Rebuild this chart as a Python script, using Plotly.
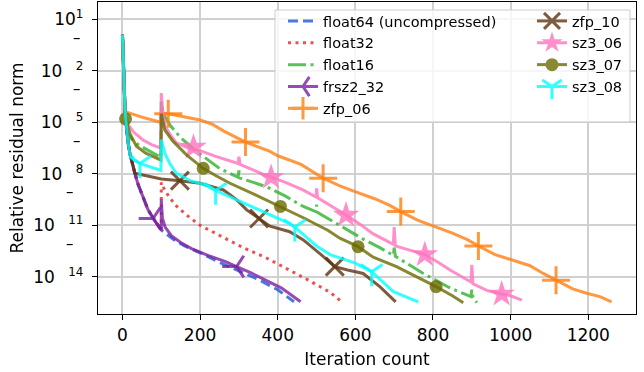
import plotly.graph_objects as go

# ---------------- data (iteration count, log10 of relative residual norm) ----------------
common_it = [0, 1, 2, 3, 4, 5, 6, 8, 10, 14, 19, 25, 32, 40, 49, 57, 66, 77, 88, 100]
common_lg = [0.1, -0.8, -1.6, -2.3, -2.9, -3.4, -3.9, -4.7, -5.3, -6.1, -6.8, -7.4, -7.97,
             -8.6, -9.13, -9.6, -10.1, -10.5, -10.9, -11.27]

float64_it = common_it + [130, 160, 200, 250, 300, 350, 400, 431, 442]
float64_lg = common_lg + [-11.8, -12.2, -12.6, -13.15, -13.65, -14.15, -14.75, -15.25, -15.45]

float32_it = common_it + [100, 110, 135, 165, 200, 250, 311, 371, 431, 480, 535, 562]
float32_lg = common_lg + [-8.5, -9.0, -9.8, -10.4, -11.0, -11.6, -12.3, -12.9, -13.6, -14.2, -14.9, -15.4]

float16_it = common_it[:9] + [14, 20, 40, 70, 99, 100, 105, 122, 150, 191, 251, 298, 300, 303, 371, 420,
                              466, 498, 500, 503, 569, 620, 663, 698, 700, 703, 775, 840, 898, 900, 903, 913]
float16_lg = common_lg[:9] + [-5.7, -5.9, -6.3, -6.7, -7.05, -3.8, -4.5, -5.15, -5.9, -6.7, -7.7, -8.2, -7.8,
                              -8.25, -8.75, -9.3, -9.9, -10.2, -9.8, -10.25, -11.1, -11.8, -12.3, -12.75,
                              -12.3, -12.8, -13.8, -14.6, -15.15, -14.75, -15.2, -15.5]

frsz2_it = common_it + [100, 103, 110, 126, 150, 178, 220, 264, 294, 330, 370, 410, 459]
frsz2_lg = common_lg + [-9.5, -10.6, -11.1, -11.6, -12.0, -12.35, -12.75, -13.1, -13.4, -13.75, -14.2,
                        -14.65, -15.45]
frsz2_mk_it = [79, 294]
frsz2_mk_lg = [-10.6, -13.4]

zfp06_it = common_it[:7] + [7, 50, 98, 100, 118, 160, 200, 230, 260, 317, 380, 400, 460, 517, 560, 599, 650,
                            690, 717, 760, 797, 850, 890, 917, 960, 998, 1050, 1084, 1117, 1160, 1196, 1230, 1260]
zfp06_lg = common_lg[:7] + [-4.38, -4.7, -5.0, -4.45, -4.5, -4.7, -4.87, -5.1, -5.5, -6.15, -6.7, -6.95, -7.45,
                            -8.26, -8.7, -9.04, -9.45, -9.85, -10.2, -10.7, -11.0, -11.45, -11.85, -12.2,
                            -12.7, -12.98, -13.35, -13.8, -14.2, -14.7, -14.95, -15.15, -15.45]
zfp06_mk_it = [118, 317, 517, 717, 917, 1117]
zfp06_mk_lg = [-4.5, -6.15, -8.26, -10.2, -12.2, -14.2]

zfp10_it = common_it[:13] + [50, 88, 100, 148, 200, 260, 294, 320, 352, 380, 431, 466, 517, 547, 580, 620,
                             663, 704]
zfp10_lg = common_lg[:13] + [-8.05, -8.26, -8.3, -8.4, -8.55, -8.94, -9.5, -10.1, -10.6, -11.05, -11.37,
                             -11.85, -12.8, -13.4, -13.6, -13.8, -14.57, -15.45]
zfp10_mk_it = [148, 352, 547]
zfp10_mk_lg = [-8.4, -10.6, -13.4]

sz306_it = common_it[:8] + [15, 30, 53, 75, 99, 100, 104, 109, 125, 139, 174, 200, 242, 298, 300, 303, 340,
                            371, 420, 466, 499, 500, 503, 540, 576, 610, 646, 698, 700, 703, 740, 779, 810,
                            844, 898, 900, 903, 940, 977, 1000, 1029]
sz306_lg = common_lg[:8] + [-5.15, -5.6, -6.03, -6.3, -6.5, -3.3, -4.4, -5.2, -5.8, -6.2, -6.55, -6.65, -7.0,
                            -7.4, -7.0, -7.45, -7.8, -8.1, -8.5, -8.95, -9.35, -8.85, -9.4, -9.9, -10.4,
                            -10.9, -11.5, -12.1, -11.1, -12.2, -12.45, -12.7, -13.1, -13.6, -14.3, -13.3,
                            -14.4, -14.8, -15.0, -15.1, -15.35]
sz306_mk_it = [183, 383, 576, 779, 977]
sz306_mk_lg = [-6.45, -8.2, -10.4, -12.7, -15.0]

sz307_it = common_it[:7] + [8, 20, 36, 60, 99, 100, 109, 130, 165, 208, 240, 277, 340, 407, 470, 530, 560,
                            607, 646, 706, 760, 808, 850, 878]
sz307_lg = common_lg[:7] + [-4.8, -5.7, -6.4, -6.8, -7.2, -4.5, -5.45, -6.1, -6.9, -7.68, -8.1, -8.55, -9.2,
                            -9.9, -10.6, -11.3, -11.75, -12.24, -12.85, -13.4, -14.0, -14.57, -15.1, -15.5]
sz307_mk_it = [8, 208, 407, 607, 808]
sz307_mk_lg = [-4.8, -7.68, -9.9, -12.24, -14.57]

sz308_it = common_it[:11] + [30, 45, 70, 99, 100, 105, 109, 122, 139, 156, 174, 208, 240, 303, 371, 431, 444,
                             500, 535, 560, 600, 642, 670, 698, 762]
sz308_lg = common_lg[:11] + [-7.2, -7.4, -7.6, -7.8, -6.0, -6.4, -6.8, -7.4, -7.97, -8.17, -8.4, -8.6, -8.97,
                             -9.6, -10.3, -10.9, -11.1, -12.2, -12.7, -12.9, -13.2, -13.7, -14.3, -14.86, -15.45]
sz308_mk_it = [45, 240, 444, 642]
sz308_mk_lg = [-7.4, -8.97, -11.1, -13.7]

x_ticks = [0, 200, 400, 600, 800, 1000, 1200]
y_tick_exp = [1, -2, -5, -8, -11, -14]
y_tick_text = ["10<sup>1</sup>", "10<sup>\u2007\u20022</sup>", "10<sup>\u2007\u20025</sup>",
               "10<sup>\u2007\u20028</sup>", "10<sup>\u2007\u200211</sup>", "10<sup>\u2007\u200214</sup>"]


def to_val(lst):
    return [10 ** v for v in lst]


series = [
    dict(name="float64 (uncompressed)", it=float64_it, lg=float64_lg, color="#1d56d8", dash="10px,5px",
         legend="legend"),
    dict(name="float32", it=float32_it, lg=float32_lg, color="#ec2424", dash="3px,4.5px", legend="legend"),
    dict(name="float16", it=float16_it, lg=float16_lg, color="#2fb42f", dash="18px,4.5px,3px,4.5px",
         legend="legend"),
    dict(name="frsz2_32", it=frsz2_it, lg=frsz2_lg, color="#7b1fa2", dash="solid", legend="legend",
         mk_it=frsz2_mk_it, mk_lg=frsz2_mk_lg, symbol="y-left", size=18, thin=True),
    dict(name="zfp_06", it=zfp06_it, lg=zfp06_lg, color="#ff7f10", dash="solid", legend="legend",
         mk_it=zfp06_mk_it, mk_lg=zfp06_mk_lg, symbol="cross-thin", size=20, thin=True),
    dict(name="zfp_10", it=zfp10_it, lg=zfp10_lg, color="#5c3310", dash="solid", legend="legend2",
         mk_it=zfp10_mk_it, mk_lg=zfp10_mk_lg, symbol="x-thin", size=18, thin=True),
    dict(name="sz3_06", it=sz306_it, lg=sz306_lg, color="#ff73be", dash="solid", legend="legend2",
         mk_it=sz306_mk_it, mk_lg=sz306_mk_lg, symbol="star", size=20, thin=False),
    dict(name="sz3_07", it=sz307_it, lg=sz307_lg, color="#6b6b00", dash="solid", legend="legend2",
         mk_it=sz307_mk_it, mk_lg=sz307_mk_lg, symbol="circle", size=13, thin=False),
    dict(name="sz3_08", it=sz308_it, lg=sz308_lg, color="#00ffff", dash="solid", legend="legend2",
         mk_it=sz308_mk_it, mk_lg=sz308_mk_lg, symbol="y-down", size=18, thin=True),
]

OP = 0.8
LW = 3
fig = go.Figure()
for s in series:
    fig.add_trace(go.Scatter(x=s["it"], y=to_val(s["lg"]), mode="lines",
                             line=dict(color=s["color"], width=LW, dash=s["dash"]),
                             opacity=OP, showlegend=False, hoverinfo="skip"))
    mk = None
    if "mk_it" in s:
        if s["thin"]:
            mk = dict(symbol=s["symbol"], size=s["size"], color=s["color"],
                      line=dict(color=s["color"], width=3))
        else:
            mk = dict(symbol=s["symbol"], size=s["size"], color=s["color"], line=dict(width=0))
        fig.add_trace(go.Scatter(x=s["mk_it"], y=to_val(s["mk_lg"]), mode="markers", marker=mk,
                                 opacity=OP, showlegend=False, hoverinfo="skip"))
    # legend entry
    fig.add_trace(go.Scatter(x=[None], y=[None], mode="lines+markers" if mk else "lines",
                             name=s["name"], legend=s["legend"],
                             line=dict(color=s["color"], width=LW, dash=s["dash"]),
                             marker=mk if mk else None, opacity=OP, hoverinfo="skip"))

# plot area in pixels: left 98, right 636, top 2, bottom 314
L, R, T, B = 98, 636, 2, 314
W, H = R - L, B - T


def px_x(p):
    return (p - L) / W


def px_y(p):
    return 1 - (p - T) / H


annotations = []
for e in y_tick_exp:
    if e < 0:
        xpix = 77.3 if e > -10 else 70
        annotations.append(dict(text="\u2013", xref="paper", yref="y", x=px_x(xpix), y=e, yshift=33,
                                showarrow=False, xanchor="center", yanchor="middle",
                                font=dict(size=15, color="black")))

fig.update_layout(
    width=644, height=372,
    margin=dict(l=L, r=644 - R, t=T, b=372 - B, autoexpand=False),
    paper_bgcolor="white", plot_bgcolor="white",
    font=dict(family="DejaVu Sans", color="black"),
    xaxis=dict(range=[-63, 1323], tickvals=x_ticks, showgrid=True, gridcolor="#d0d0d0", gridwidth=1.5,
               zeroline=False, showline=True, mirror=True, linecolor="black", linewidth=1.3,
               ticks="outside", ticklen=5, tickwidth=1.3, tickcolor="black", tickfont=dict(size=17),
               automargin=False,
               title=dict(text="Iteration count", font=dict(size=17), standoff=9)),
    yaxis=dict(type="log", range=[-16.16, 2.0], tickvals=to_val(y_tick_exp), ticktext=y_tick_text,
               showgrid=True, gridcolor="#d0d0d0", gridwidth=1.5, zeroline=False, showline=True,
               mirror=True, linecolor="black", linewidth=1.3, ticks="outside", ticklen=5, tickwidth=1.3,
               tickcolor="black", tickfont=dict(size=17), automargin=False, ticklabelstandoff=5,
               title=dict(text="Relative residual norm", font=dict(size=17), standoff=5)),
    legend=dict(x=px_x(283), y=px_y(5), xanchor="left", yanchor="top", bgcolor="rgba(0,0,0,0)",
                borderwidth=0, font=dict(size=14.5)),
    legend2=dict(x=px_x(532), y=px_y(5), xanchor="left", yanchor="top", bgcolor="rgba(0,0,0,0)",
                 borderwidth=0, font=dict(size=14.5)),
    shapes=[dict(type="rect", xref="paper", yref="paper", x0=px_x(275), x1=px_x(630), y0=px_y(122),
                 y1=px_y(10), line=dict(color="#cccccc", width=1), fillcolor="rgba(255,255,255,0.8)",
                 layer="above")],
    annotations=annotations,
)

fig.write_html("out.html", config={"displayModeBar": False},
               post_script="document.body.style.margin='0';document.body.style.padding='0';")
